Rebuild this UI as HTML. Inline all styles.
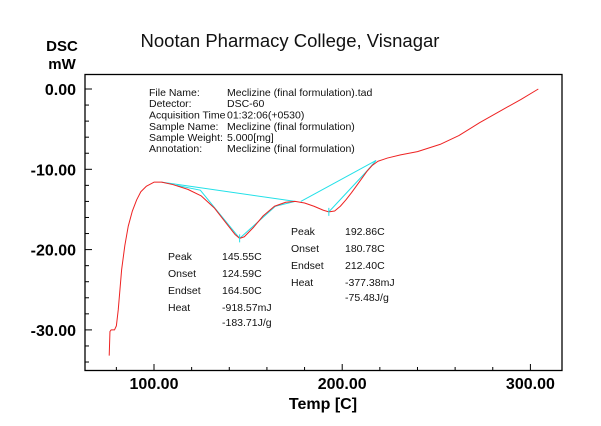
<!DOCTYPE html>
<html><head><meta charset="utf-8"><style>
body{margin:0;background:#fff;width:601px;height:421px;overflow:hidden}
svg{font-family:"Liberation Sans",sans-serif}
</style></head><body>
<svg id="c" width="601" height="421">
<text x="290" y="47" font-size="18.5" text-anchor="middle" fill="#111">Nootan Pharmacy College, Visnagar</text>
<text x="62" y="51" font-size="15" font-weight="bold" text-anchor="middle">DSC</text>
<text x="62" y="69" font-size="15" font-weight="bold" text-anchor="middle">mW</text>
<text x="323" y="409" font-size="16" font-weight="bold" text-anchor="middle">Temp  [C]</text>
<rect x="85" y="74.5" width="477" height="296" fill="none" stroke="#000" stroke-width="1.3"/>
<g id="ticks"></g>
<g font-size="10.5" fill="#111">
<text x="149" y="96">File Name:</text><text x="227" y="96">Meclizine (final formulation).tad</text>
<text x="149" y="107">Detector:</text><text x="227" y="107">DSC-60</text>
<text x="149" y="118.5">Acquisition Time</text><text x="227" y="118.5">01:32:06(+0530)</text>
<text x="149" y="130">Sample Name:</text><text x="227" y="130">Meclizine (final formulation)</text>
<text x="149" y="141">Sample Weight:</text><text x="227" y="141">5.000[mg]</text>
<text x="149" y="152">Annotation:</text><text x="227" y="152">Meclizine (final formulation)</text>
</g>
<g font-size="10.5" fill="#111">
<text x="168" y="260">Peak</text><text x="222" y="260">145.55C</text>
<text x="168" y="277">Onset</text><text x="222" y="277">124.59C</text>
<text x="168" y="294">Endset</text><text x="222" y="294">164.50C</text>
<text x="168" y="311">Heat</text><text x="222" y="311">-918.57mJ</text>
<text x="222" y="326">-183.71J/g</text>
</g>
<g font-size="10.5" fill="#111">
<text x="291" y="235">Peak</text><text x="345" y="235">192.86C</text>
<text x="291" y="252">Onset</text><text x="345" y="252">180.78C</text>
<text x="291" y="269">Endset</text><text x="345" y="269">212.40C</text>
<text x="291" y="286">Heat</text><text x="345" y="286">-377.38mJ</text>
<text x="345" y="301">-75.48J/g</text>
</g>
<g id="series"></g>
</svg>
<script>
const xTicks=[100,200,300];
const yTicks=[0,-10,-20,-30];
const temps=[76.2,76.6,77.2,79,80,81,82.8,84.5,86.3,88.5,90.8,93,96,100,104,110,118,125,132,138,143,145.5,148,153,158,164,170,175,180,185,190,192.9,196,199,202,205,209,213,216,219,224,231,240,252,262,273,285,295,304.2];
const dsc=[-33.2,-30.2,-30.0,-30.0,-29.5,-27.5,-22.5,-19.5,-17.1,-15.2,-13.8,-12.8,-12.1,-11.6,-11.6,-11.9,-12.5,-13.3,-14.8,-16.6,-18.1,-18.6,-18.4,-17.2,-15.8,-14.6,-14.1,-14.0,-14.2,-14.6,-15.1,-15.3,-15.2,-14.6,-13.8,-12.9,-11.6,-10.3,-9.5,-9.0,-8.6,-8.2,-7.8,-6.9,-5.8,-4.2,-2.6,-1.3,0];
const base1T=[104,175], base1V=[-11.6,-14.0];
const base2T=[178,218], base2V=[-14.0,-8.9];
const tan1T=[112,124.6,145.5], tan1V=[-12.0,-12.6,-18.6];
const tan2T=[145.5,164.5,175], tan2V=[-18.6,-14.6,-14.0];
const tan3T=[192.9,212.4,218], tan3V=[-15.3,-10.4,-8.9];
const X=t=>154+(t-100)*1.882, Y=v=>89-v*8.03;
const NS='http://www.w3.org/2000/svg';
const tk=document.getElementById('ticks'), sr=document.getElementById('series');
function line(g,x1,y1,x2,y2,c,w){const l=document.createElementNS(NS,'line');l.setAttribute('x1',x1);l.setAttribute('y1',y1);l.setAttribute('x2',x2);l.setAttribute('y2',y2);l.setAttribute('stroke',c);l.setAttribute('stroke-width',w);g.appendChild(l);return l;}
for(let t=80;t<=300;t+=20){const l=line(tk,X(t),370.5,X(t),t%100==0?364:367,'#000',1);

}
for(let v=0;v>=-34;v-=2){const l=line(tk,85,Y(v),v%10==0?92:89,Y(v),'#000',1);

}
xTicks.forEach(t=>{const e=document.createElementNS(NS,'text');e.setAttribute('x',X(t));e.setAttribute('y',389);e.setAttribute('font-size',16);e.setAttribute('font-weight','bold');e.setAttribute('text-anchor','middle');e.textContent=t.toFixed(2);


tk.appendChild(e);});
yTicks.forEach(v=>{const e=document.createElementNS(NS,'text');e.setAttribute('x',76);e.setAttribute('y',Y(v)+6);e.setAttribute('font-size',16);e.setAttribute('font-weight','bold');e.setAttribute('text-anchor','end');e.textContent=v.toFixed(2);


tk.appendChild(e);});
function poly(T,V,c,name){const p=document.createElementNS(NS,'polyline');p.setAttribute('points',T.map((t,i)=>X(t)+','+Y(V[i])).join(' '));p.setAttribute('fill','none');p.setAttribute('stroke',c);p.setAttribute('stroke-width',1);p.setAttribute('stroke-linejoin','round');


sr.appendChild(p);}
poly(base1T,base1V,'#22e0e8','baseline-peak1');
poly(base2T,base2V,'#22e0e8','baseline-peak2');
poly(tan1T,tan1V,'#22e0e8','onset-tangent-1');
poly(tan2T,tan2V,'#22e0e8','endset-tangent-1');
poly(tan3T,tan3V,'#22e0e8','endset-tangent-2');
poly(temps,dsc,'#ee2222','dsc-curve');
[[145.5,-18.6],[192.9,-15.3]].forEach(([t,v])=>{const l=line(sr,X(t),Y(v)-4,X(t),Y(v)+4,'#22e0e8',1);

});
</script>
</body></html>
